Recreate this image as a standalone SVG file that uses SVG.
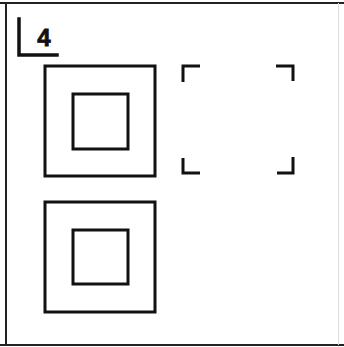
<svg xmlns="http://www.w3.org/2000/svg" width="344" height="347" viewBox="0 0 344 347">
<style>
.ln{fill:none;stroke:#111;stroke-width:3.5;stroke-linecap:square}
.bx{fill:none;stroke:#111;stroke-width:3}
.br{fill:none;stroke:#111;stroke-width:3}
</style>
<rect width="344" height="347" fill="#fff"/>
<g id="frame">
<line x1="0" y1="3" x2="344" y2="3" stroke="#222" stroke-width="2"/>
<line x1="6" y1="3" x2="6" y2="345" stroke="#222" stroke-width="2"/>
<line x1="0" y1="345" x2="344" y2="345" stroke="#222" stroke-width="2"/>
<line x1="338.5" y1="3" x2="338.5" y2="345" stroke="#ddd" stroke-width="1"/>
</g>
<g id="label">
<polyline class="ln" points="19,19 19,55 57,55"/>
<text x="44" y="45.5" font-family="Liberation Sans, Arial, sans-serif" font-weight="bold" font-size="24" text-anchor="middle" fill="#111" stroke="#111" stroke-width="0.8">4</text>
</g>
<g id="box1">
<rect class="bx" x="45" y="66" width="110" height="110"/>
<rect class="bx" x="73" y="94" width="55" height="55"/>
</g>
<g id="box2">
<rect class="bx" x="45" y="202" width="110" height="110"/>
<rect class="bx" x="73" y="230" width="55" height="54"/>
</g>
<g id="brackets">
<polyline class="br" points="183,82 183,66 200,66"/>
<polyline class="br" points="276,66 293,66 293,81"/>
<polyline class="br" points="183,158 183,173 200,173"/>
<polyline class="br" points="277,173 293,173 293,157"/>
</g>
</svg>
